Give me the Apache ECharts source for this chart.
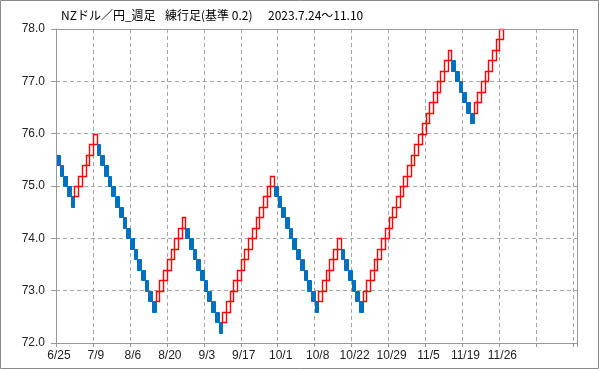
<!DOCTYPE html>
<html>
<head>
<meta charset="utf-8">
<script src="https://cdn.jsdelivr.net/npm/echarts@6/dist/echarts.min.js"></script>
<style>
html,body{margin:0;padding:0;background:#fff;}
#chart{width:599px;height:369px;}
</style>
</head>
<body>
<div id="chart"></div>
<script>
// Title parts
var titleParts = ['NZドル／円_週足', '練行足(基準 0.2)', '2023.7.24～11.10'];

// X-axis tick labels (one every 10 bricks)
var xTickLabels = ['6/25','7/9','8/6','8/20','9/3','9/17','10/1','10/8','10/22','10/29','11/5','11/19','11/26','',''];

// Renko bricks (box size 0.2): open and close of each brick, in order
var brickOpen = [
  75.6,75.4,75.2,75.0,74.8,
  74.8,75.0,75.2,75.4,75.6,75.8,
  75.8,75.6,75.4,75.2,75.0,74.8,74.6,74.4,74.2,74.0,73.8,73.6,73.4,73.2,73.0,72.8,
  72.8,73.0,73.2,73.4,73.6,73.8,74.0,74.2,
  74.2,74.0,73.8,73.6,73.4,73.2,73.0,72.8,72.6,72.4,
  72.4,72.6,72.8,73.0,73.2,73.4,73.6,73.8,74.0,74.2,74.4,74.6,74.8,75.0,
  75.0,74.8,74.6,74.4,74.2,74.0,73.8,73.6,73.4,73.2,73.0,72.8,
  72.8,73.0,73.2,73.4,73.6,73.8,
  73.8,73.6,73.4,73.2,73.0,72.8,
  72.8,73.0,73.2,73.4,73.6,73.8,74.0,74.2,74.4,74.6,74.8,75.0,75.2,75.4,75.6,75.8,76.0,76.2,76.4,76.6,76.8,77.0,77.2,77.4,
  77.4,77.2,77.0,76.8,76.6,76.4,
  76.4,76.6,76.8,77.0,77.2,77.4,77.6,77.8
];
var brickClose = [
  75.4,75.2,75.0,74.8,74.6,
  75.0,75.2,75.4,75.6,75.8,76.0,
  75.6,75.4,75.2,75.0,74.8,74.6,74.4,74.2,74.0,73.8,73.6,73.4,73.2,73.0,72.8,72.6,
  73.0,73.2,73.4,73.6,73.8,74.0,74.2,74.4,
  74.0,73.8,73.6,73.4,73.2,73.0,72.8,72.6,72.4,72.2,
  72.6,72.8,73.0,73.2,73.4,73.6,73.8,74.0,74.2,74.4,74.6,74.8,75.0,75.2,
  74.8,74.6,74.4,74.2,74.0,73.8,73.6,73.4,73.2,73.0,72.8,72.6,
  73.0,73.2,73.4,73.6,73.8,74.0,
  73.6,73.4,73.2,73.0,72.8,72.6,
  73.0,73.2,73.4,73.6,73.8,74.0,74.2,74.4,74.6,74.8,75.0,75.2,75.4,75.6,75.8,76.0,76.2,76.4,76.6,76.8,77.0,77.2,77.4,77.6,
  77.2,77.0,76.8,76.6,76.4,76.2,
  76.6,76.8,77.0,77.2,77.4,77.6,77.8,78.0
];

var xSlots = 141;   // category slots on the x axis
var yMin = 72, yMax = 78, yStep = 1;

var data = brickOpen.map(function (o, i) { return [i, o, brickClose[i]]; });

var titleFont = {fontFamily: 'Noto Sans CJK JP', fontSize: 12, fontWeight: 'normal', fill: '#000'};
var titleX = [61, 165, 268];

var chart = echarts.init(document.getElementById('chart'), null, {renderer: 'canvas'});
chart.setOption({
  animation: false,
  backgroundColor: '#fff',
  grid: {left: 56, right: 22, top: 29, bottom: 26, show: false},
  xAxis: {
    type: 'value', min: 0, max: xSlots, interval: 10,
    axisLine: {show: true, lineStyle: {color: '#999', width: 1}},
    axisTick: {show: true, length: 4, inside: false, lineStyle: {color: '#999'}},
    splitLine: {show: true, lineStyle: {color: '#a6a6a6', type: [4, 3], width: 1}},
    axisLabel: {
      margin: 7, fontFamily: 'Liberation Sans', fontSize: 12, color: '#222',
      padding: [0, 0, 0, 6],
      formatter: function (v) { var k = Math.round(v / 10); return (v % 10 === 0 && xTickLabels[k]) ? xTickLabels[k] : ''; }
    }
  },
  yAxis: {
    type: 'value', min: yMin, max: yMax, interval: yStep,
    axisLine: {show: true, lineStyle: {color: '#999', width: 1}},
    axisTick: {show: true, length: 5, lineStyle: {color: '#999'}},
    splitLine: {show: true, lineStyle: {color: '#a6a6a6', type: [4, 3], width: 1}},
    axisLabel: {
      margin: 11, fontFamily: 'Liberation Sans', fontSize: 12, color: '#222',
      formatter: function (v) { return v.toFixed(1); }
    }
  },
  series: [{
    type: 'custom',
    data: data,
    clip: false,
    renderItem: function (params, api) {
      var i = api.value(0), o = api.value(1), c = api.value(2);
      var p1 = api.coord([i, Math.max(o, c)]);
      var p2 = api.coord([i + 1, Math.min(o, c)]);
      var up = c > o;
      var x = Math.round(p1[0]) + 0.5, x2 = Math.round(p2[0]) + 0.5;
      var y = Math.round(p1[1]) + 0.5, y2 = Math.round(p2[1]) + 0.5;
      if (up) {
        return {type: 'rect', shape: {x: x, y: y, width: x2 - x, height: y2 - y},
          style: {fill: null, stroke: '#ff0000', lineWidth: 1.4}};
      }
      return {type: 'rect', shape: {x: x, y: y, width: x2 - x, height: y2 - y},
        style: {fill: '#0070c0', stroke: '#0070c0', lineWidth: 1}};
    }
  }]
});

// plot-area border (solid) and outer chart border
var tl = chart.convertToPixel({gridIndex: 0}, [0, yMax]);
var br = chart.convertToPixel({gridIndex: 0}, [xSlots, yMin]);
var graphics = [
  {type: 'rect', shape: {x: Math.round(tl[0]) + 0.5, y: Math.round(tl[1]) + 0.5,
    width: Math.round(br[0]) - Math.round(tl[0]), height: Math.round(br[1]) - Math.round(tl[1])},
   style: {fill: null, stroke: '#999', lineWidth: 1}, silent: true, z: 50},
  {type: 'rect', shape: {x: 0.5, y: 0.5, width: 598, height: 368},
   style: {fill: null, stroke: '#8a8a8a', lineWidth: 1}, silent: true, z: 100}
];
titleParts.forEach(function (t, k) {
  graphics.push({type: 'text', left: titleX[k], top: 9, style: Object.assign({text: t}, titleFont), z: 100});
});
chart.setOption({graphic: graphics});
</script>
</body>
</html>
